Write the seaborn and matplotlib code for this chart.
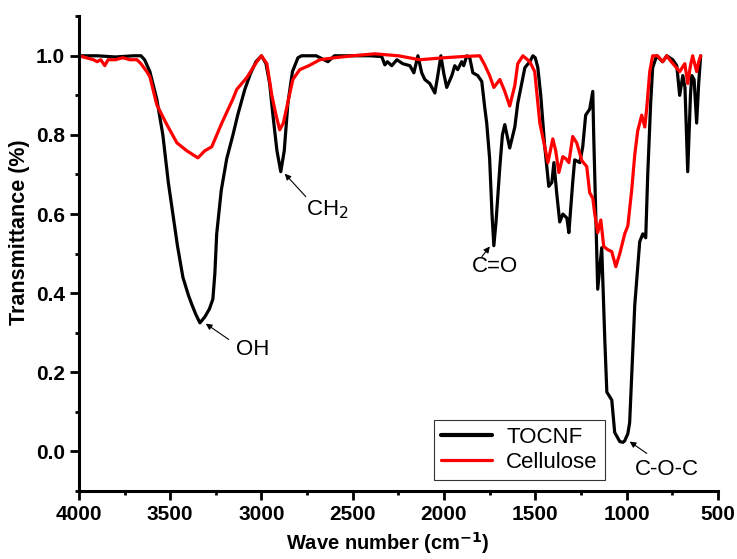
#!/usr/bin/env python3

import pandas as pd
import seaborn as sns
import matplotlib.pyplot as plt
from matplotlib.ticker import MultipleLocator

output_file = "out.png"

# TOCNF spectrum (wave number, transmittance)
tocnf_wn = [
    4000, 3900, 3800, 3700, 3660, 3640, 3611, 3573, 3540, 3510, 3485, 3460,
    3430, 3400, 3380, 3360, 3337, 3310, 3285, 3266, 3255, 3245, 3220, 3190,
    3156, 3130, 3091, 3060, 3030, 3000, 2975, 2955, 2937, 2915, 2894, 2875,
    2855, 2830, 2800, 2780, 2700, 2636, 2600, 2500, 2406, 2341, 2324, 2310,
    2286, 2258, 2226, 2187, 2165, 2143, 2122, 2105, 2078, 2050, 2034, 2017,
    2001, 1985, 1957, 1941, 1925, 1903, 1892, 1875, 1859, 1842, 1815, 1793,
    1777, 1766, 1750, 1737, 1727, 1715, 1694, 1680, 1667, 1640, 1612, 1596,
    1574, 1557, 1530, 1513, 1500, 1486, 1470, 1448, 1426, 1409, 1398, 1382,
    1366, 1349, 1327, 1316, 1295, 1284, 1256, 1240, 1224, 1202, 1185, 1180,
    1169, 1158, 1136, 1119, 1108, 1081, 1065, 1037, 1020, 1010, 993, 983,
    966, 955, 928, 911, 895, 884, 868, 857, 835, 802, 780, 747, 725, 709,
    692, 680, 665, 650, 643, 630, 616, 605, 594,
]
tocnf_t = [
    1.0, 1.0, 0.997, 1.0, 1.0, 0.99, 0.96, 0.89, 0.80, 0.68, 0.60, 0.52,
    0.44, 0.395, 0.37, 0.347, 0.325, 0.34, 0.36, 0.385, 0.45, 0.55, 0.66, 0.74,
    0.80, 0.85, 0.915, 0.955, 0.985, 1.0, 0.98, 0.93, 0.85, 0.76, 0.707, 0.76,
    0.88, 0.96, 0.995, 1.0, 1.0, 0.985, 1.0, 1.0, 1.0, 0.998, 0.977, 0.985,
    0.975, 0.99, 0.98, 0.975, 0.957, 1.0, 0.957, 0.94, 0.93, 0.906, 0.95, 1.0,
    0.955, 0.92, 0.95, 0.975, 0.965, 0.985, 0.975, 1.0, 0.995, 0.957, 0.95, 0.935,
    0.87, 0.83, 0.74, 0.60, 0.52, 0.58, 0.72, 0.80, 0.826, 0.767, 0.82, 0.88,
    0.93, 0.97, 0.985, 1.0, 0.995, 0.97, 0.90, 0.77, 0.67, 0.68, 0.73, 0.65,
    0.58, 0.60, 0.59, 0.553, 0.68, 0.737, 0.73, 0.77, 0.85, 0.865, 0.91, 0.80,
    0.60, 0.41, 0.515, 0.28, 0.15, 0.13, 0.048, 0.025, 0.023, 0.027, 0.045, 0.073,
    0.25, 0.37, 0.53, 0.55, 0.54, 0.70, 0.88, 0.97, 1.0, 0.985, 1.0, 0.99,
    0.975, 0.90, 0.95, 0.92, 0.707, 0.90, 0.95, 0.94, 0.83, 0.93, 1.0,
]

# Cellulose spectrum
cell_wn = [
    4000, 3960, 3920, 3900, 3880, 3858, 3840, 3800, 3760, 3720, 3682, 3660,
    3628, 3611, 3573, 3518, 3463, 3409, 3348, 3310, 3272, 3217, 3157, 3135,
    3080, 3025, 3000, 2970, 2943, 2920, 2900, 2880, 2861, 2828, 2790, 2740,
    2680, 2600, 2500, 2380, 2250, 2133, 2000, 1900, 1804, 1777, 1750, 1727,
    1694, 1667, 1640, 1612, 1596, 1568, 1530, 1503, 1475, 1448, 1431, 1404,
    1388, 1371, 1349, 1333, 1316, 1295, 1273, 1245, 1218, 1202, 1185, 1174,
    1158, 1141, 1125, 1103, 1081, 1059, 1037, 1010, 993, 972, 955, 939,
    917, 900, 889, 873, 857, 830, 802, 780, 764, 709, 681, 665, 650, 638,
    616, 605, 594,
]
cell_t = [
    1.0, 0.995, 0.99, 0.985, 0.99, 0.975, 0.99, 0.99, 0.995, 0.99, 0.99, 0.98,
    0.96, 0.947, 0.876, 0.826, 0.78, 0.76, 0.742, 0.76, 0.77, 0.83, 0.89, 0.915,
    0.945, 0.985, 1.0, 0.98, 0.90, 0.85, 0.813, 0.83, 0.87, 0.94, 0.965, 0.975,
    0.99, 0.995, 1.0, 1.005, 1.0, 0.99, 0.995, 0.998, 1.0, 0.977, 0.95, 0.92,
    0.94, 0.91, 0.873, 0.925, 0.98, 1.0, 0.985, 0.96, 0.83, 0.77, 0.73, 0.79,
    0.76, 0.705, 0.745, 0.74, 0.73, 0.796, 0.78, 0.735, 0.72, 0.654, 0.64, 0.60,
    0.553, 0.585, 0.518, 0.51, 0.505, 0.467, 0.50, 0.55, 0.57, 0.66, 0.75, 0.81,
    0.85, 0.82, 0.87, 0.96, 1.0, 1.0, 0.985, 1.0, 0.99, 0.96, 0.98, 0.93,
    0.975, 1.0, 0.96, 0.985, 1.0,
]

samples = ["TOCNF", "Cellulose"]
colors = {"TOCNF": "black", "Cellulose": "red"}

if __name__ == "__main__":
    df = pd.concat([
        pd.DataFrame({"wn": tocnf_wn, "T": tocnf_t, "sample": "TOCNF"}),
        pd.DataFrame({"wn": cell_wn, "T": cell_t, "sample": "Cellulose"}),
    ], ignore_index=True)

    sns.set_style("ticks")
    plt.rcParams["font.family"] = ["Liberation Sans", "DejaVu Sans"]
    plt.rcParams["text.color"] = "black"
    plt.rcParams["axes.labelcolor"] = "black"

    fig = plt.figure(figsize=(7.37, 5.59), dpi=100)
    ax = fig.add_axes([0.107, 0.1216, 0.867, 0.8494])

    sns.lineplot(
        data=df, x="wn", y="T", hue="sample", hue_order=samples,
        palette=colors, estimator=None, sort=False, linewidth=2.3, ax=ax,
    )

    ax.set_xlim(4000, 500)
    ax.set_ylim(-0.1, 1.1)
    ax.xaxis.set_major_locator(MultipleLocator(500))
    ax.xaxis.set_minor_locator(MultipleLocator(250))
    ax.yaxis.set_major_locator(MultipleLocator(0.2))
    ax.yaxis.set_minor_locator(MultipleLocator(0.1))
    ax.tick_params(which="major", length=6.5, width=2, direction="out",
                   labelsize=15, colors="black", pad=3.5)
    ax.tick_params(which="minor", length=3, width=2, direction="out",
                   colors="black")
    ax.set_yticks([0.0, 0.2, 0.4, 0.6, 0.8, 1.0])
    ax.set_yticklabels(["0.0", "0.2", "0.4", "0.6", "0.8", "1.0"])
    for lbl in ax.get_xticklabels() + ax.get_yticklabels():
        lbl.set_fontweight("bold")

    sns.despine(ax=ax)
    for side in ["left", "bottom"]:
        ax.spines[side].set_linewidth(2.2)
        ax.spines[side].set_color("black")

    ax.set_xlabel("Wave number (cm$^{\\mathbf{-1}}$)", fontsize=14.5,
                  fontweight="bold")
    ax.set_ylabel("Transmittance (%)", fontsize=15.5, fontweight="bold")
    ax.xaxis.set_label_coords(0.484, -0.082)
    ax.yaxis.set_label_coords(-0.077, 0.545)

    # peak labels with small arrows
    arrow = dict(arrowstyle="-|>", color="black", lw=0.8,
                 mutation_scale=9, shrinkA=0, shrinkB=0)
    notes = [
        ("OH", (3140, 0.258), (3179, 0.283), (3305, 0.323)),
        ("CH$_2$", (2755, 0.611), (2757, 0.644), (2872, 0.702)),
        ("C=O", (1848, 0.467), (1793, 0.492), (1749, 0.518)),
        ("C-O-C", (955, -0.045), (889, -0.005), (983, 0.025)),
    ]
    for text, pos, tail, head in notes:
        ax.annotate("", xy=head, xytext=tail, arrowprops=arrow)
        ax.text(pos[0], pos[1], text, fontsize=16, ha="left", va="center",
                color="black")

    handles, labels = ax.get_legend_handles_labels()
    leg = ax.legend(
        handles, labels, loc="lower left", bbox_to_anchor=(0.556, 0.024),
        fontsize=16, frameon=True, fancybox=False, edgecolor="black",
        handlelength=2.3, borderpad=0.3, labelspacing=0.2,
        handletextpad=0.65, borderaxespad=0, labelcolor="black",
    )
    leg.get_frame().set_linewidth(0.8)
    leg_widths = [3.0, 2.3]
    for line, w in zip(leg.get_lines(), leg_widths):
        line.set_linewidth(w)

    plt.savefig(output_file, dpi=100)
